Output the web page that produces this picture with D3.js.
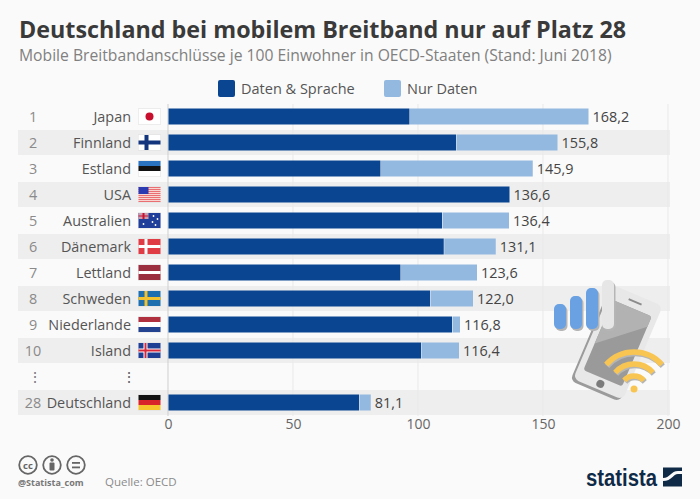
<!DOCTYPE html>
<html lang="de">
<head>
<meta charset="utf-8">
<title>Mobiles Breitband OECD</title>
<script src="https://cdn.jsdelivr.net/npm/d3@7"></script>
<style>
  html, body { margin: 0; padding: 0; background: #fafafa; }
  svg { display: block; }
  text { font-family: "Open Sans", sans-serif; }
</style>
</head>
<body>
<svg id="chart" width="700" height="499"></svg>
<script>
// Values; the dark part is estimated from the bar split.
const ranks = ['1', '2', '3', '4', '5', '6', '7', '8', '9', '10', '⋮', '28'];
const countries = ['Japan', 'Finnland', 'Estland', 'USA', 'Australien', 'Dänemark', 'Lettland', 'Schweden', 'Niederlande', 'Island', '⋮', 'Deutschland'];
const flags = ['jp', 'fi', 'ee', 'us', 'au', 'dk', 'lv', 'se', 'nl', 'is', null, 'de'];
const totals = [168.2, 155.8, 145.9, 136.6, 136.4, 131.1, 123.6, 122.0, 116.8, 116.4, null, 81.1];
const datenSprache = [96.6, 115.2, 85.0, 136.6, 109.6, 110.3, 93.0, 104.8, 113.6, 101.2, null, 76.4];
const seriesNames = ['Daten & Sprache', 'Nur Daten'];
const seriesColors = ['#0a4591', '#94b9e0'];
const xTicks = [0, 50, 100, 150, 200];

const svg = d3.select('#chart');
const x = d3.scaleLinear().domain([0, 200]).range([168, 668]);
const y = d3.scaleBand().domain(d3.range(countries.length)).range([104, 416]);

svg.append('text').attr('x', 19).attr('y', 38)
  .attr('font-size', 23.3).attr('font-weight', 700).attr('fill', '#3a3a3a')
  .text('Deutschland bei mobilem Breitband nur auf Platz 28');
svg.append('text').attr('x', 19).attr('y', 61)
  .attr('font-size', 15.7).attr('fill', '#808080')
  .text('Mobile Breitbandanschlüsse je 100 Einwohner in OECD-Staaten (Stand: Juni 2018)');

// Legend
const legendX = [218, 384];
seriesNames.forEach((name, i) => {
  svg.append('rect').attr('x', legendX[i]).attr('y', 80).attr('width', 17).attr('height', 17)
    .attr('rx', 2).attr('fill', seriesColors[i]);
  svg.append('text').attr('x', legendX[i] + 23).attr('y', 94)
    .attr('font-size', 14.5).attr('fill', '#555').text(name);
});

// Alternating row bands
countries.forEach((c, i) => {
  if (i % 2 === 1 && c !== '⋮' || i === 11) {
    svg.append('rect').attr('x', 18).attr('y', y(i)).attr('width', 652).attr('height', y.bandwidth() - 1)
      .attr('fill', '#eeeeee');
  }
});

// Axis and grid
const axis = d3.axisBottom(x).tickValues(xTicks).tickSize(0).tickPadding(0);
const axisG = svg.append('g').attr('transform', 'translate(0,416)').call(axis);
axisG.select('.domain').remove();
axisG.selectAll('text').attr('y', 3).attr('font-size', 14).attr('fill', '#666')
  .style('font-family', '"Open Sans", sans-serif');
svg.append('g').selectAll('line').data(xTicks).join('line')
  .attr('x1', (d) => x(d)).attr('x2', (d) => x(d))
  .attr('y1', 104).attr('y2', 416)
  .attr('stroke', (d) => (d === 0 ? '#cfcfcf' : '#e9e9e9'))
  .attr('stroke-width', 1);

// Stacked bars
const rows = countries.map((c, i) => ({
  i,
  'Daten & Sprache': datenSprache[i] || 0,
  'Nur Daten': totals[i] ? totals[i] - datenSprache[i] : 0,
}));
const stacked = d3.stack().keys(seriesNames)(rows);
const barH = 16;
svg.append('g').selectAll('g').data(stacked).join('g')
  .attr('fill', (d, i) => seriesColors[i])
  .selectAll('rect').data((d) => d.filter((p) => p[1] > p[0])).join('rect')
  .attr('x', (d) => x(d[0]) + 0.5)
  .attr('y', (d) => y(d.data.i) + (y.bandwidth() - barH) / 2 - 0.5)
  .attr('width', (d) => x(d[1]) - x(d[0]) - 0.5)
  .attr('height', barH);

// Row labels
countries.forEach((c, i) => {
  const cy = y(i) + y.bandwidth() / 2 - 0.5;
  const dots = c === '⋮';
  svg.append('text').attr('x', dots ? 35 : 33).attr('y', cy + 5).attr('text-anchor', 'middle')
    .attr('font-size', 14.4).attr('fill', dots ? '#777' : '#8a8a8a').text(ranks[i]);
  svg.append('text').attr('x', dots ? 129 : 131).attr('y', cy + 5).attr('text-anchor', dots ? 'middle' : 'end')
    .attr('font-size', 14.4).attr('fill', '#555').text(c);
  if (totals[i]) {
    svg.append('text').attr('x', x(totals[i]) + 4).attr('y', cy + 5)
      .attr('font-size', 14.4).attr('fill', '#444').text(d3.format('.1f')(totals[i]).replace('.', ','));
  }
  if (flags[i]) drawFlag(flags[i], cy);
});

// Flags are 22x15 with a faint shadow border
function drawFlag(code, cy) {
  const g = svg.append('g').attr('transform', `translate(138.5,${cy - 7.5})`);
  const r = (x0, y0, w, h, fill) => g.append('rect').attr('x', x0).attr('y', y0).attr('width', w).attr('height', h).attr('fill', fill);
  g.append('rect').attr('x', -0.5).attr('y', -0.5).attr('width', 23).attr('height', 16).attr('fill', '#ddd');
  r(0, 0, 22, 15, '#fff');
  if (code === 'jp') {
    g.append('circle').attr('cx', 11).attr('cy', 7.5).attr('r', 4).attr('fill', '#c8102e');
  } else if (code === 'fi') {
    r(6, 0, 4, 15, '#12357e'); r(0, 5.5, 22, 4, '#12357e');
  } else if (code === 'ee') {
    r(0, 0, 22, 5, '#2a73c0'); r(0, 5, 22, 5, '#111');
  } else if (code === 'us') {
    r(0, 0, 22, 15, '#f9d5d2');
    d3.range(8).forEach((k) => r(0, k * 2, 22, 1, '#ea6f72'));
    r(0, 0, 10, 7, '#2b3ab0');
  } else if (code === 'au') {
    r(0, 0, 22, 15, '#1f3f9a');
    r(0, 0, 10, 6, '#c9a0b0'); r(4, 0, 2, 6, '#c8102e'); r(0, 2.5, 10, 1, '#c8102e');
    [[5, 11], [15, 3], [19, 6], [14, 9], [17, 12]].forEach(([a, b]) =>
      g.append('circle').attr('cx', a).attr('cy', b).attr('r', 0.9).attr('fill', '#fff'));
  } else if (code === 'dk') {
    r(0, 0, 22, 15, '#e03c45'); r(6, 0, 3, 15, '#fff'); r(0, 6, 22, 3, '#fff');
  } else if (code === 'lv') {
    r(0, 0, 22, 15, '#9b2f40'); r(0, 6, 22, 3, '#fff');
  } else if (code === 'se') {
    r(0, 0, 22, 15, '#1d6fb0'); r(6, 0, 3, 15, '#f2c230'); r(0, 6, 22, 3, '#f2c230');
  } else if (code === 'nl') {
    r(0, 0, 22, 5, '#b03040'); r(0, 10, 22, 5, '#23428f');
  } else if (code === 'is') {
    r(0, 0, 22, 15, '#1f3f95'); r(5, 0, 4, 15, '#fff'); r(0, 5.5, 22, 4, '#fff');
    r(6, 0, 2, 15, '#d7283c'); r(0, 6.5, 22, 2, '#d7283c');
  } else if (code === 'de') {
    r(0, 0, 22, 5, '#111'); r(0, 5, 22, 5, '#d8232a'); r(0, 10, 22, 5, '#f6c52e');
  }
}

// Phone illustration
const art = svg.append('g');
const phone = art.append('g').attr('transform', 'translate(617,342) rotate(23)');
phone.append('rect').attr('x', -28).attr('y', -49).attr('width', 54).attr('height', 103).attr('rx', 6).attr('fill', '#9b9b9b');
phone.append('rect').attr('x', -26).attr('y', -51).attr('width', 54).attr('height', 102).attr('rx', 6).attr('fill', '#e8e8e8');
phone.append('rect').attr('x', -20).attr('y', -37).attr('width', 42).attr('height', 76).attr('rx', 3).attr('fill', '#9a9a9a');
phone.append('path').attr('d', 'M-20,-34 Q-20,-37 -17,-37 L19,-37 Q22,-37 22,-34 L22,-26 L-20,10 Z').attr('fill', '#b2b2b2');
phone.append('rect').attr('x', -6).attr('y', -45).attr('width', 14).attr('height', 2).attr('fill', '#8c8c8c');
phone.append('circle').attr('cx', 1).attr('cy', 45).attr('r', 4).attr('fill', '#7b7b7b');

const signalBars = [[554, 304, '#69a1e2'], [570, 296, '#69a1e2'], [586, 288, '#69a1e2'], [602, 280, '#e6e6e6']];
signalBars.forEach(([bx, by, fill]) => {
  art.append('rect').attr('x', bx + 1.5).attr('y', by + 2).attr('width', 12).attr('height', 329 - by).attr('rx', 5).attr('fill', '#b5b5b5');
  art.append('rect').attr('x', bx).attr('y', by).attr('width', 12).attr('height', 329 - by).attr('rx', 5).attr('fill', fill);
});

const wifi = art.append('g').attr('transform', 'translate(634,389)');
[13, 25, 37].forEach((radius) => {
  const arc = d3.arc().innerRadius(radius).outerRadius(radius).startAngle(-0.85).endAngle(0.85);
  wifi.append('path').attr('d', arc()).attr('transform', 'translate(1,1.5)').attr('fill', 'none').attr('stroke', '#b5b5b5').attr('stroke-width', 5.5).attr('stroke-linecap', 'round');
  wifi.append('path').attr('d', arc()).attr('fill', 'none').attr('stroke', '#f8c553').attr('stroke-width', 5.5).attr('stroke-linecap', 'round');
});
wifi.append('circle').attr('r', 3.5).attr('fill', '#f8c553');

// Footer: licence icons, handle, source, logo
[28, 52, 76].forEach((cx) => {
  svg.append('circle').attr('cx', cx).attr('cy', 465).attr('r', 8.8).attr('fill', 'none').attr('stroke', '#666').attr('stroke-width', 1.8);
});
svg.append('text').attr('x', 28).attr('y', 468.5).attr('text-anchor', 'middle').attr('font-size', 9.5).attr('font-weight', 700).attr('fill', '#666').text('cc');
svg.append('circle').attr('cx', 52).attr('cy', 460).attr('r', 1.8).attr('fill', '#666');
svg.append('rect').attr('x', 49.5).attr('y', 462.5).attr('width', 5).attr('height', 8).attr('rx', 1).attr('fill', '#666');
svg.append('rect').attr('x', 72).attr('y', 462).attr('width', 8).attr('height', 1.8).attr('fill', '#666');
svg.append('rect').attr('x', 72).attr('y', 466.5).attr('width', 8).attr('height', 1.8).attr('fill', '#666');
svg.append('text').attr('x', 18).attr('y', 486).attr('font-size', 9).attr('font-weight', 700).attr('fill', '#777').text('@Statista_com');
svg.append('text').attr('x', 105).attr('y', 486).attr('font-size', 11.5).attr('fill', '#8a8a8a').text('Quelle: OECD');

svg.append('text').attr('x', 586).attr('y', 486).attr('font-size', 23).attr('font-weight', 700)
  .attr('textLength', 71).attr('lengthAdjust', 'spacingAndGlyphs')
  .style('font-family', '"Liberation Sans Narrow", "Liberation Sans", sans-serif')
  .attr('fill', '#0f2a47').text('statista');
svg.append('rect').attr('x', 663).attr('y', 467.5).attr('width', 19).attr('height', 19).attr('fill', '#0f2a47');
svg.append('path').attr('d', 'M663,478 C670,478 671,471 678,471 L682,471 L682,474 L678,474 C673,474 672,481 663,481 Z').attr('fill', '#fafafa');
</script>
</body>
</html>
